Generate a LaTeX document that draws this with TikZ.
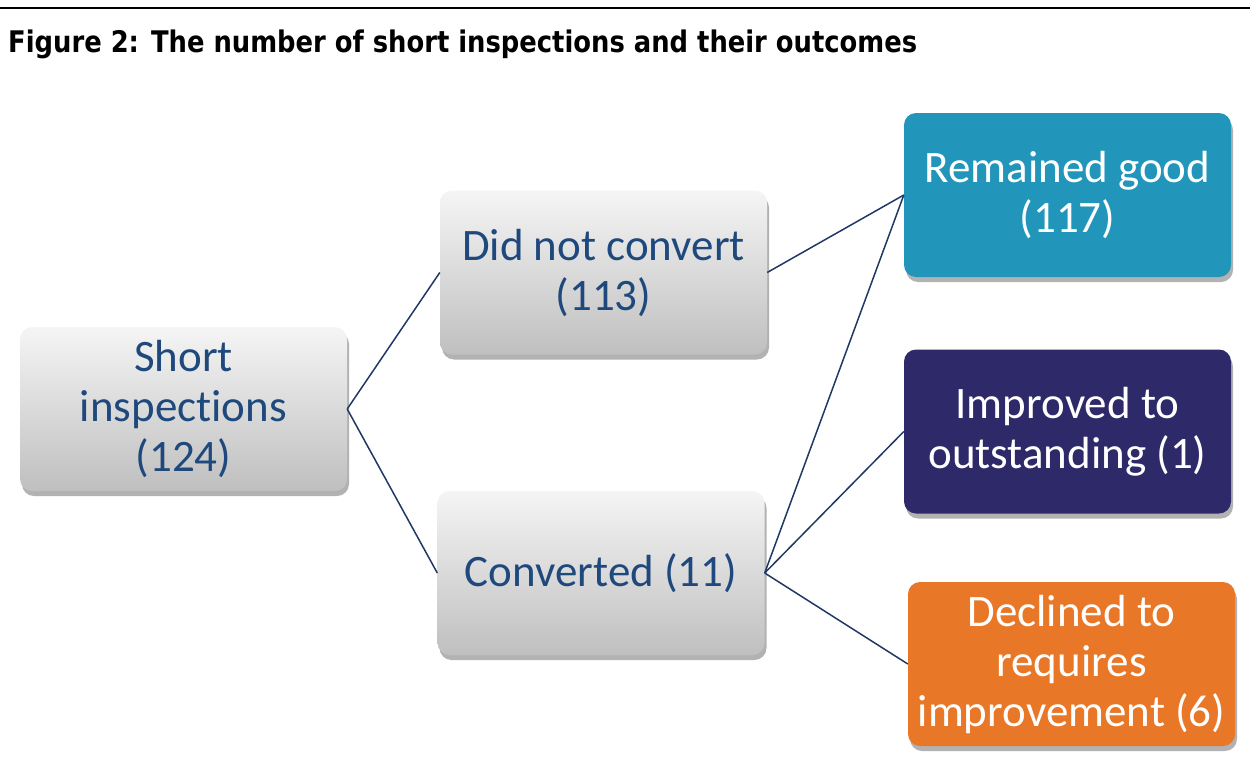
\documentclass[tikz,border=0pt]{standalone}
\usepackage{fontspec}
\usepackage{graphicx}
\setmainfont{Carlito}[Ligatures=NoCommon]
\newfontfamily\titlefont{DejaVu Sans}
\usetikzlibrary{shadows}
\definecolor{txtblue}{HTML}{1F497D}
\definecolor{linenavy}{HTML}{203864}
\definecolor{tealbox}{HTML}{2196BA}
\definecolor{navybox}{HTML}{2E2A6A}
\definecolor{orangebox}{HTML}{E87728}
\tikzset{
  box/.style={rounded corners=12pt, minimum width=327pt, minimum height=164pt,
    align=center, inner sep=0pt, font=\fontsize{45}{50}\selectfont,
    drop shadow={shadow xshift=2pt, shadow yshift=-5pt, opacity=0.3, fill=black}},
  graybox/.style={box, top color=white!96!black, bottom color=black!25, text=txtblue},
  colbox/.style={box, fill=#1, text=white},
  conn/.style={draw=linenavy, line width=1.5pt}
}
\begin{document}
\begin{tikzpicture}[x=1pt,y=-1pt]
\useasboundingbox (0,0) rectangle (1250,758);
\draw[line width=2.5pt] (0,8) -- (1250,8);
\node[anchor=base west, inner sep=0pt] (title) at (8,52) {\resizebox{909pt}{22.6pt}{\titlefont\bfseries\fontsize{30}{34}\selectfont Figure 2: The number of short inspections and their outcomes}};
\node[graybox] (short) at (183.5,409) {Short\\inspections\\(124)};
\node[graybox] (dnc) at (603.5,272.5) {Did not convert\\(113)};
\node[graybox] (conv) at (601,573) {Converted (11)};
\node[colbox=tealbox] (good) at (1067.5,195) {Remained good\\(117)};
\node[colbox=navybox] (outst) at (1067.5,431.5) {Improved to\\outstanding (1)};
\node[colbox=orangebox] (decl) at (1071.5,664) {Declined to\\requires\\improvement (6)};
\draw[conn] (short.east) -- (dnc.west);
\draw[conn] (short.east) -- (conv.west);
\draw[conn] (dnc.east) -- (good.west);
\draw[conn] (conv.east) -- (good.west);
\draw[conn] (conv.east) -- (outst.west);
\draw[conn] (conv.east) -- (decl.west);
\end{tikzpicture}
\end{document}
